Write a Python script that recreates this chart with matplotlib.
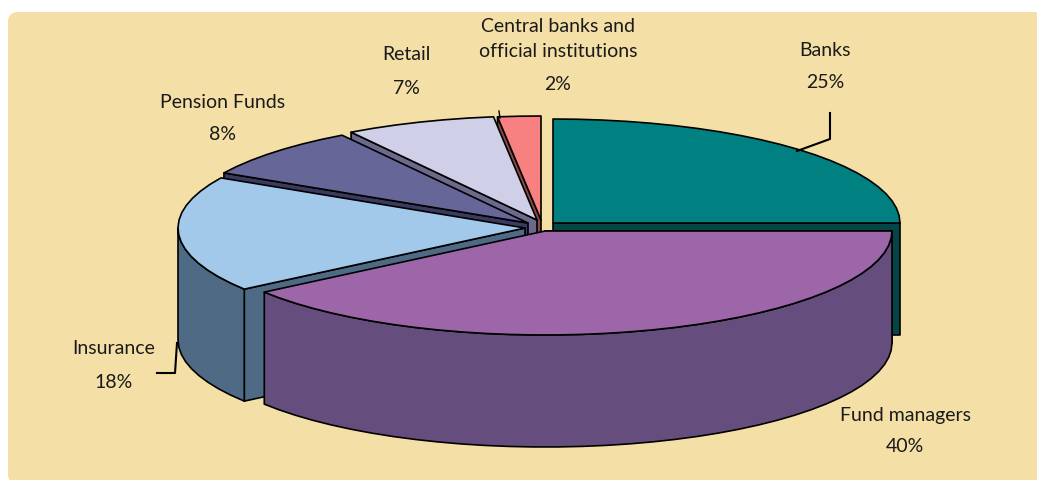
import numpy as np
import matplotlib.pyplot as plt
from matplotlib.patches import FancyBboxPatch

plt.rcParams['font.family'] = ['Lato', 'DejaVu Sans']

# share of each investor group, clockwise from twelve o'clock
labels = ['Banks', 'Fund managers', 'Insurance', 'Pension Funds', 'Retail',
          'Central banks and\nofficial institutions']
shares = [25, 40, 18, 8, 7, 2]

top_colors = ['#008080', '#9c66a8', '#a2c9ea', '#666699', '#cfcfe8', '#f78080']
side_colors = ['#054545', '#654e7e', '#4e6a85', '#3a3a60', '#6c6a8c', '#8b4a4a']

# exploded apex of each slice, in pixels
apexes = [(553, 223), (545, 231), (525, 228), (528, 223), (537, 220), (541, 220)]
text_pos = [(825, 50), (905, 415), (114, 348), (223, 103), (406, 55), (558, 39)]
pct_pos = [(825, 83), (905, 447), (114, 382), (223, 135), (406, 88), (558, 85)]

RX, RY = 347, 104
DEPTH = 112
EDGE = dict(edgecolor='black', linewidth=1.2, joinstyle='round')


def rim_point(apex, clock_deg):
    a = np.radians(clock_deg)
    return apex[0] + RX * np.sin(a), apex[1] - RY * np.cos(a)


def arc(apex, start, end):
    # coarse steps give the slightly faceted outline of the rim
    n = max(int((end - start) / 4), 2)
    ang = np.linspace(start, end, n + 1)
    xs, ys = rim_point(apex, ang)
    return xs, ys


fig = plt.figure(figsize=(10.37, 4.80), dpi=100)
ax = fig.add_axes([0, 0, 1, 1])
ax.set_xlim(0, 1037)
ax.set_ylim(480, 0)
ax.axis('off')

panel = FancyBboxPatch((8, 12), 1050, 472, boxstyle='round,pad=0,rounding_size=10',
                       facecolor='#f4dfa6', edgecolor='none')
ax.add_patch(panel)

# slice angles follow the shares
bounds = np.concatenate([[0], np.cumsum(shares)]) * 360 / sum(shares)

# back slices first so the ones in front hide their lower parts
order = [5, 4, 3, 0, 2, 1]
for i in order:
    start, end = bounds[i], bounds[i + 1]
    apex = apexes[i]

    # radial wall along whichever cut edge faces the viewer
    sx, sy = rim_point(apex, end if end <= 180 else start)
    ax.fill([apex[0], sx, sx, apex[0]], [apex[1], sy, sy + DEPTH, apex[1] + DEPTH],
            facecolor=side_colors[i], **EDGE, zorder=2)

    # outer wall, only where the rim faces the viewer
    lo, hi = max(start, 90), min(end, 270)
    if lo < hi:
        xs, ys = arc(apex, lo, hi)
        ax.fill(np.r_[xs, xs[::-1]], np.r_[ys, ys[::-1] + DEPTH],
                facecolor=side_colors[i], **EDGE, zorder=2)

    xs, ys = arc(apex, start, end)
    ax.fill(np.r_[apex[0], xs], np.r_[apex[1], ys], facecolor=top_colors[i], **EDGE, zorder=2)

# leader lines
ax.plot([830, 830, 797], [113, 139, 151], color='black', lw=1.5, zorder=3)
ax.plot([157, 175, 177], [373, 373, 343], color='black', lw=1.5, zorder=3)
ax.plot([499, 500], [111, 118], color='black', lw=1.0, zorder=3)

for name, share, tp, pp in zip(labels, shares, text_pos, pct_pos):
    ax.text(tp[0], tp[1], name, ha='center', va='center', fontsize=14, color='#1a1a1a',
            linespacing=1.55)
    ax.text(pp[0], pp[1], f'{share}%', ha='center', va='center', fontsize=14, color='#1a1a1a')

fig.savefig('out.png', dpi=100)
